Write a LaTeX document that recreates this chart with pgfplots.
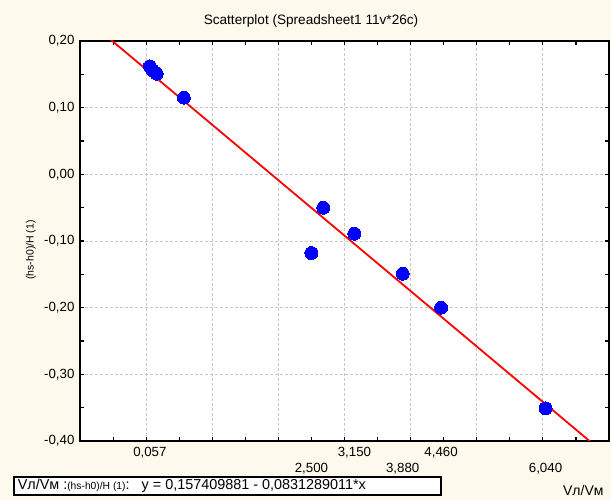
\documentclass[border=0pt]{standalone}
\usepackage{fontspec}
\setmainfont{Liberation Sans}
\usepackage{pgfplots}
\pgfplotsset{compat=1.18}
\definecolor{paper}{RGB}{253,249,237}
\definecolor{gridgray}{RGB}{200,200,200}
\newcommand{\lab}{\fontsize{13.3bp}{16bp}\selectfont}
\newcommand{\low}[1]{\raisebox{-16bp}[\height][\depth]{#1}}

\begin{document}
\begin{tikzpicture}[x=1bp,y=1bp]
\fill[paper] (0,0) rectangle (611,500);
\useasboundingbox (0,0) rectangle (611,500);

\node[font=\fontsize{13.6bp}{16bp}\selectfont] at (311,479) {Scatterplot (Spreadsheet1 11v*26c)};
\node[font=\fontsize{10.5bp}{12bp}\selectfont, rotate=90] at (31,250) {(hs-h0)/H (1)};

\begin{axis}[
  at={(80bp,59bp)}, anchor=south west,
  scale only axis, width=529bp, height=400bp,
  xmin=-1, xmax=7, ymin=-0.4, ymax=0.2,
  axis background/.style={fill=white},
  axis line style={line width=2bp},
  every tick/.style={black, line width=1.1bp},
  major tick length=4bp, minor tick length=4bp,
  xtick={-1,0,1,2,3,4,5,6,7}, xticklabels={},
  minor x tick num=1,
  ytick={-0.4,-0.3,-0.2,-0.1,0,0.1,0.2}, minor y tick num=1,
  yticklabel style={font=\lab, xshift=-2bp, /pgf/number format/.cd, fixed, fixed zerofill, precision=2, use comma, assume math mode=true},
  grid=major,
  major grid style={gridgray, line width=0.9bp, dash pattern=on 3bp off 2bp},
  extra x ticks={0.057,2.5,3.15,3.88,4.46,6.04},
  extra x tick labels={{0,057},{\low{2,500}},{3,150},{\low{3,880}},{4,460},{\low{6,040}}},
  extra x tick style={grid=none, major tick length=0pt,
    xticklabel style={font=\lab, yshift=-3bp}},
]
% observations
\addplot[blue, only marks, mark=*, mark size=6.5bp, mark options={fill=blue, draw=blue, line width=0pt}]
  coordinates {
    (0.057,0.162) (0.10,0.156) (0.16,0.151) (0.57,0.115)
    (2.50,-0.118) (2.68,-0.050) (3.15,-0.089) (3.88,-0.149)
    (4.46,-0.200) (6.04,-0.351)
  };
% fitted line y = 0,157409881 - 0,0831289011*x
\addplot[red, line width=1.8bp] coordinates {(-1,0.2405387821) (7,-0.4244924267)};
\end{axis}

\node[draw, fill=white, line width=1.5bp, inner xsep=4bp, inner ysep=0bp,
      minimum height=18bp, anchor=west] at (13,14)
  {\makebox[419bp][l]{\fontsize{14.4bp}{16bp}\selectfont Vл/Vм :{\fontsize{10.3bp}{11bp}\selectfont(hs-h0)/H (1)}:\ \ \ y = 0,157409881 - 0,0831289011*x}};
\node[font=\fontsize{14bp}{16bp}\selectfont, anchor=east] at (607,10) {Vл/Vм};
\end{tikzpicture}
\end{document}
